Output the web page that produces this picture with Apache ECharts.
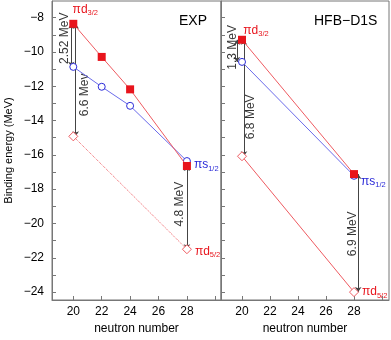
<!DOCTYPE html>
<html><head><meta charset="utf-8">
<script src="https://cdn.jsdelivr.net/npm/echarts@6/dist/echarts.min.js"></script>
<style>html,body{margin:0;padding:0;background:#fff}#c{width:391px;height:340px}</style>
</head><body><div id="c"></div>
<script>
// ---- data ----
const N_exp = [20, 22, 24, 28];
const d32_exp = [-8.36, -10.29, -12.18, -16.65];
const s12_exp = [-10.87, -12.03, -13.14, -16.36];
const N_ends = [20, 28];
const d52_exp = [-14.92, -21.5];
const d32_hfb = [-9.29, -17.12];
const s12_hfb = [-10.58, -17.22];
const d52_hfb = [-16.08, -24.0];
const gapText_exp = ['2.52 MeV', '6.6 Mev', '4.8 MeV'];
const gapText_hfb = ['1.3 MeV', '6.8 MeV', '6.9 MeV'];
const xTickLabels = [20, 22, 24, 26, 28];
const xTicks = [20, 22, 24, 26, 28, 30];
const yTickLabels = [-24, -22, -20, -18, -16, -14, -12, -10, -8];
const yTicks = [-24,-23,-22,-21,-20,-19,-18,-17,-16,-15,-14,-13,-12,-11,-10,-9,-8];
const panelTitles = ['EXP', 'HFB\u2212D1S'];

const RED = '#e8141c', REDL = '#ee5a60', BLUE = '#2a2ad8', BLUEL = '#6a6aea', AX = '#777';
const FONT = 'Liberation Sans';
const zip = (xs, ys) => xs.map((x, i) => [x, ys[i]]);
const rich = {
  m: { fontSize: 12, fontFamily: FONT },
  s: { fontSize: 7.5, fontFamily: FONT, padding: [7, 0, 0, 0] }
};
function lab(name, sub, color, opts) {
  return Object.assign({ show: true, formatter: '{m|' + name + '}{s|' + sub + '}',
    color: color, rich: { m: Object.assign({ color }, rich.m), s: Object.assign({ color }, rich.s) } }, opts);
}
function xAx(gi, max) {
  return { type: 'value', gridIndex: gi, min: 18.5, max: max,
    name: 'neutron number', nameLocation: 'middle', nameGap: 23,
    nameTextStyle: { fontFamily: FONT, fontSize: 12, color: '#000' },
    axisLine: { show: true, lineStyle: { color: AX } },
    axisTick: { show: true, inside: true, length: 4, customValues: xTicks, lineStyle: { color: AX } },
    axisLabel: { customValues: xTickLabels, margin: 6, fontFamily: FONT, fontSize: 12, color: '#000' },
    splitLine: { show: false } };
}
function yAx(gi, showLab) {
  return { type: 'value', gridIndex: gi, min: -24.46, max: -7.03,
    name: showLab ? 'Binding energy (MeV)' : '', nameLocation: 'middle', nameGap: 38,
    nameTextStyle: { fontFamily: FONT, fontSize: 11, color: '#000' },
    axisLine: { show: true, lineStyle: { color: AX } },
    axisTick: { show: true, inside: true, length: 4, customValues: yTicks, lineStyle: { color: AX } },
    axisLabel: { show: showLab, customValues: yTickLabels, margin: 8, fontFamily: FONT, fontSize: 12, color: '#000',
      formatter: v => String(v).replace('-', '\u2212') },
    splitLine: { show: false } };
}
function gapArrows(gi, segs) {
  return { type: 'lines', coordinateSystem: 'cartesian2d', xAxisIndex: gi, yAxisIndex: gi,
    symbol: ['arrow', 'arrow'], symbolSize: 5, silent: true,
    lineStyle: { color: '#444', width: 1, opacity: 1 },
    data: segs.map(s => ({ coords: [[s[0], s[1]], [s[0], s[2]]] })) };
}
function gapTexts(gi, items) {
  return { type: 'scatter', xAxisIndex: gi, yAxisIndex: gi, symbolSize: 0, silent: true,
    data: items.map(it => ({ value: [it[0], it[1]],
      label: { show: true, position: 'inside', rotate: 90, formatter: it[2], color: '#000',
        fontFamily: FONT, fontSize: 12 } })) };
}
function pts(gi, xs, ys, kind, lineType, labelIdx, labelCfg) {
  let sym, size, item, lc;
  if (kind === 'sq') { sym = 'rect'; size = 8; item = { color: RED }; lc = REDL; }
  else if (kind === 'ci') { sym = 'circle'; size = 7; item = { color: '#fff', borderColor: BLUE, borderWidth: 1 }; lc = BLUEL; }
  else { sym = 'diamond'; size = 9; item = { color: '#fff', borderColor: REDL, borderWidth: 1 }; lc = REDL; }
  const data = zip(xs, ys).map((p, i) => i === labelIdx ? { value: p, label: labelCfg } : { value: p });
  return { type: 'line', xAxisIndex: gi, yAxisIndex: gi, symbol: sym, symbolSize: size, showAllSymbol: true,
    itemStyle: item, lineStyle: { color: lc, width: 1, type: lineType }, data: data, z: kind === 'sq' ? 4 : 3 };
}
const chart = echarts.init(document.getElementById('c'), null, { renderer: 'canvas' });
const option = {
  animation: false,
  grid: [
    { left: 52, right: 170, top: 1, bottom: 38, show: true, borderColor: AX, borderWidth: 1 },
    { left: 221, right: 2, top: 1, bottom: 38, show: true, borderColor: AX, borderWidth: 1 }
  ],
  xAxis: [xAx(0, 30.4), xAx(1, 30.5)],
  yAxis: [yAx(0, true), yAx(1, false)],
  title: [
    { text: panelTitles[0], left: 174, top: 9, textStyle: { fontFamily: FONT, fontSize: 14, fontWeight: 'normal', color: '#000' } },
    { text: panelTitles[1], left: 309, top: 9, textStyle: { fontFamily: FONT, fontSize: 14, fontWeight: 'normal', color: '#000' } }
  ],
  series: [
    pts(0, N_ends, d52_exp, 'di', 'dotted', 1, lab('\u03c0d', '5/2', RED, { position: 'right', distance: 3, offset: [0, 2] })),
    pts(0, N_exp, s12_exp, 'ci', 'solid', 3, lab('\u03c0s', '1/2', BLUE, { position: 'right', distance: 3, offset: [0, 4] })),
    pts(0, N_exp, d32_exp, 'sq', 'solid', 0, lab('\u03c0d', '3/2', RED, { position: 'inside', offset: [12, -14] })),
    pts(1, N_ends, d52_hfb, 'di', 'solid', 1, lab('\u03c0d', '5/2', RED, { position: 'right', distance: 3, offset: [0, 0] })),
    pts(1, N_ends, s12_hfb, 'ci', 'solid', 1, lab('\u03c0s', '1/2', BLUE, { position: 'right', distance: 3, offset: [0, 6] })),
    pts(1, N_ends, d32_hfb, 'sq', 'solid', 0, lab('\u03c0d', '3/2', RED, { position: 'inside', offset: [14, -9] })),
    gapArrows(0, [[19.86, d32_exp[0], s12_exp[0]], [20.17, d32_exp[0], d52_exp[0]], [28.0, d32_exp[3], d52_exp[1]]]),
    gapArrows(1, [[19.64, d32_hfb[0], s12_hfb[0]], [20.14, d32_hfb[0], d52_hfb[0]], [28.3, d32_hfb[1], d52_hfb[1]]]),
    gapTexts(0, [[19.37, -9.2, gapText_exp[0]], [20.77, -12.5, gapText_exp[1]], [27.5, -18.87, gapText_exp[2]]]),
    gapTexts(1, [[19.32, -9.73, gapText_hfb[0]], [20.6, -13.78, gapText_hfb[1]], [27.93, -20.6, gapText_hfb[2]]])
  ]
};
chart.setOption(option);
</script></body></html>
